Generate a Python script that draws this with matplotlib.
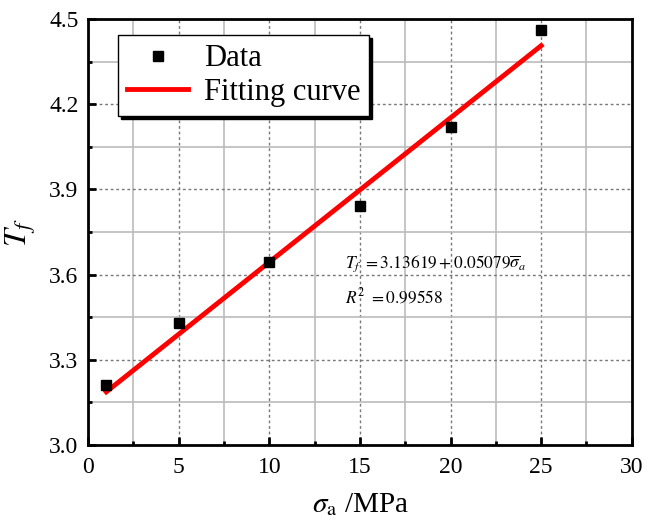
import matplotlib
matplotlib.use("Agg")
import matplotlib.pyplot as plt
import numpy as np
from matplotlib.ticker import MultipleLocator

plt.rcParams['font.family'] = ['Liberation Serif', 'DejaVu Serif']
plt.rcParams['mathtext.fontset'] = 'stix'

x_data = [1, 5, 10, 15, 20, 25]
y_data = [3.21, 3.428, 3.645, 3.84, 4.12, 4.46]
fit_intercept = 3.13619
fit_slope = 0.05079
fit_x = [1, 25]
fit_y = [fit_intercept + fit_slope * v for v in fit_x]

fig = plt.figure(figsize=(6.48, 5.26), dpi=100)
ax = fig.add_axes([0.136, 0.154, 0.839, 0.81])

ax.plot(fit_x, fit_y, color='#ff0000', lw=3.5, label='Fitting curve', zorder=3)
ax.plot(x_data, y_data, 's', color='black', ms=7, label='Data', zorder=4)

ax.set_xlim(0, 30)
ax.set_ylim(3.0, 4.5)
ax.xaxis.set_major_locator(MultipleLocator(5))
ax.xaxis.set_minor_locator(MultipleLocator(2.5))
ax.yaxis.set_minor_locator(MultipleLocator(0.15))
ax.set_yticks([3.0, 3.3, 3.6, 3.9, 4.2, 4.5])
ax.set_yticklabels(['3.0', '3.3', '3.6', '3.9', '4.2', '4.5'])

ax.grid(which='major', color='#777777', lw=1, ls=(0, (2, 2)), zorder=0)
ax.grid(which='minor', color='#bbbbbb', lw=1.2, ls='-', zorder=0)
ax.set_axisbelow(True)

for s in ax.spines.values():
    s.set_linewidth(2)
ax.tick_params(which='major', direction='in', length=6, width=2, labelsize=17, top=False, right=False, pad=7)
ax.tick_params(axis='x', which='major', pad=9)
ax.tick_params(which='minor', direction='in', length=3, width=2, top=False, right=False)

ax.set_xlabel(r'$\sigma_{\rm a}$ /MPa', fontsize=21, labelpad=9)
ax.set_ylabel(r'$T_f$', fontsize=23, labelpad=8)

ax.text(0.473, 0.425, r'$T_f\ = 3.13619 + 0.05079\overline{\sigma}_a$', transform=ax.transAxes, fontsize=12.5, va='center')
ax.text(0.473, 0.348, r'$R^2\ = 0.99558$', transform=ax.transAxes, fontsize=12.5, va='center')

handles, labels = ax.get_legend_handles_labels()
leg = ax.legend(handles[::-1], labels[::-1], loc='upper left', bbox_to_anchor=(0.055, 0.962),
                borderaxespad=0, fontsize=22, frameon=True, fancybox=False, shadow={'color': 'black', 'alpha': 1},
                edgecolor='black', framealpha=1, handlelength=2.0, handletextpad=0.5,
                labelspacing=0.15, borderpad=0.3)
leg.get_frame().set_linewidth(1)

fig.savefig('out.png', dpi=100)
